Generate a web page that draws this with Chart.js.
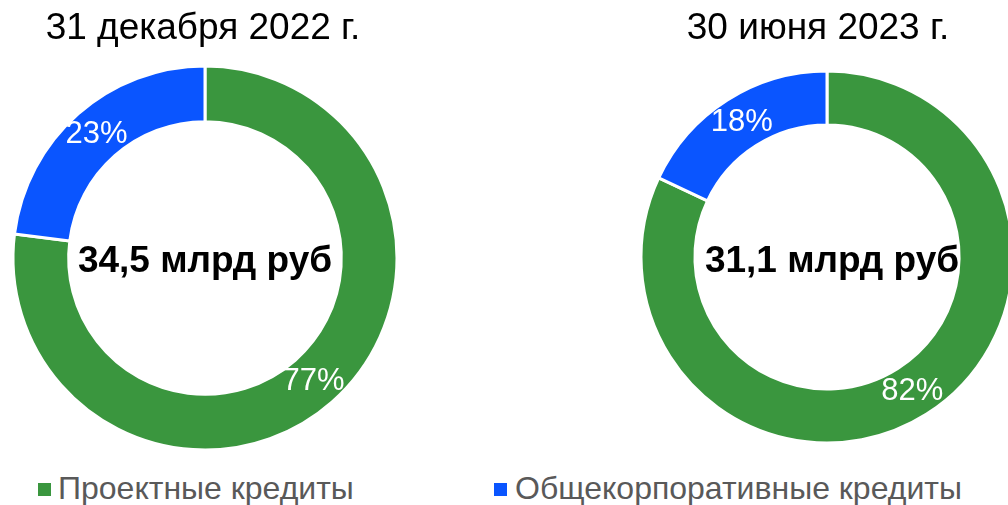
<!DOCTYPE html>
<html>
<head>
<meta charset="utf-8">
<script src="https://cdn.jsdelivr.net/npm/chart.js@4"></script>
<style>
  body { margin: 0; background: #fff; }
  #wrap { position: relative; width: 1008px; height: 505px; overflow: hidden; font-family: "Liberation Sans", Arial, sans-serif; }
  .box { position: absolute; top: 0; height: 460px; }
  .leg { position: absolute; top: 471px; font-size: 32px; line-height: 34px; color: #595959; white-space: nowrap; }
  .leg i { position: absolute; top: 12px; width: 13px; height: 13px; }
</style>
</head>
<body>
<div id="wrap">
  <div class="box" style="left:0;width:410px"><canvas id="c1"></canvas></div>
  <div class="box" style="left:620px;width:414px"><canvas id="c2"></canvas></div>
  <div class="leg" style="left:58px"><i style="left:-20px;background:#3A963E"></i>Проектные кредиты</div>
  <div class="leg" style="left:515px"><i style="left:-21px;background:#0A55FF"></i>Общекорпоративные кредиты</div>
</div>
<script>
var categories = ['Проектные кредиты', 'Общекорпоративные кредиты'];
var dates = ['31 декабря 2022 г.', '30 июня 2023 г.'];
var totals = ['34,5 млрд руб', '31,1 млрд руб'];
var shares2022 = [77, 23];
var shares2023 = [82, 18];
var colors = ['#3A963E', '#0A55FF'];

// titles, center total and percent labels
var textPlugin = {
    id: 'texts',
    afterDraw: function(chart) {
        var o = chart.options.plugins.texts;
        var ctx = chart.ctx;
        ctx.save();
        ctx.textAlign = 'center';
        ctx.textBaseline = 'middle';
        ctx.fillStyle = '#000';
        ctx.font = '37px "Liberation Sans", Arial, sans-serif';
        ctx.fillText(o.title, o.titleX, 29);
        ctx.font = 'bold 37px "Liberation Sans", Arial, sans-serif';
        ctx.fillText(o.total, o.totalX, 262);
        ctx.fillStyle = '#fff';
        ctx.font = '31px "Liberation Sans", Arial, sans-serif';
        var meta = chart.getDatasetMeta(0);
        var vals = chart.data.datasets[0].data;
        meta.data.forEach(function(arc, i) {
            var p = arc.getCenterPoint();
            ctx.fillText(vals[i] + '%', p.x, p.y);
        });
        ctx.restore();
    }
};

function makeChart(id, values, pad, o) {
    return new Chart(document.getElementById(id), {
        type: 'doughnut',
        data: {
            labels: categories,
            datasets: [{
                data: values,
                backgroundColor: colors,
                borderColor: '#fff',
                borderWidth: 3
            }]
        },
        options: {
            responsive: true,
            maintainAspectRatio: false,
            animation: false,
            cutout: '71%',
            layout: { padding: pad },
            plugins: {
                legend: { display: false },
                tooltip: { enabled: false },
                texts: o
            }
        },
        plugins: [textPlugin]
    });
}

makeChart('c1', shares2022, { left: 11.5, right: 11.5, top: 64.5, bottom: 8.5 },
    { title: dates[0], titleX: 203, total: totals[0], totalX: 205 });
makeChart('c2', shares2023, { left: 19.5, right: 19.5, top: 69.5, bottom: 15.5 },
    { title: dates[1], titleX: 198, total: totals[1], totalX: 212 });
</script>
</body>
</html>
